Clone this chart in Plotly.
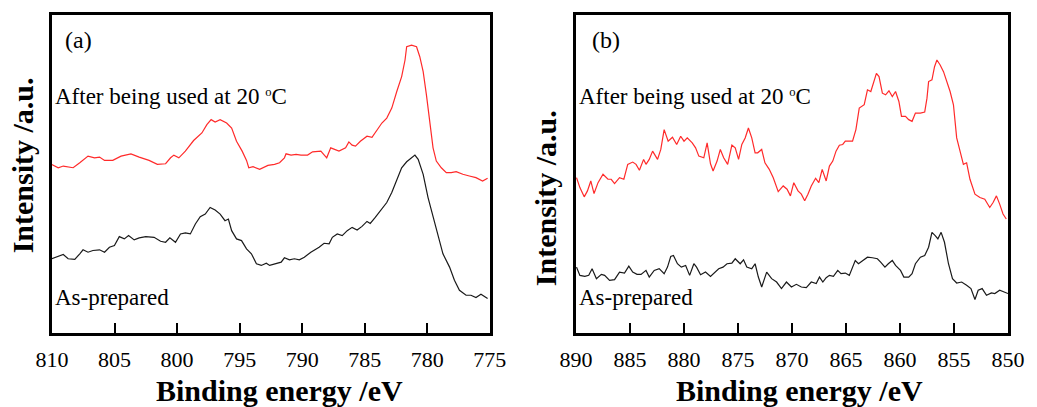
import plotly.graph_objects as go
from plotly.subplots import make_subplots

# Panel (a)
a_used_be = [810.03, 809.50, 809.10, 808.31, 807.78, 807.12, 806.60, 806.20, 805.80, 805.14, 804.48, 803.69, 803.03, 802.24, 801.58, 800.92, 800.52, 800.26, 799.86, 799.34, 798.68, 798.02, 797.62, 797.28, 796.96, 796.56, 796.04, 795.64, 795.25, 794.80, 794.45, 794.27, 793.93, 793.40, 792.74, 792.21, 791.81, 791.42, 791.29, 790.89, 790.49, 790.10, 789.57, 789.17, 788.51, 788.25, 788.04, 787.72, 787.40, 787.06, 786.53, 786.27, 786.01, 785.74, 785.35, 784.82, 784.42, 784.03, 783.63, 783.24, 782.84, 782.44, 782.05, 781.78, 781.65, 781.26, 780.86, 780.60, 780.33, 780.07, 779.80, 779.54, 779.28, 778.88, 778.48, 778.09, 777.69, 777.16, 776.64, 776.11, 775.58, 775.18]
a_used_int = [169.7, 166.3, 168.0, 166.3, 171.3, 178.0, 176.3, 177.0, 173.7, 173.7, 178.0, 180.3, 177.0, 173.7, 169.7, 170.3, 176.3, 179.0, 176.3, 183.0, 193.7, 201.3, 209.7, 214.7, 212.3, 214.7, 211.3, 206.3, 193.0, 183.0, 173.7, 166.3, 167.3, 164.7, 168.7, 169.7, 171.3, 176.3, 180.3, 179.0, 179.7, 179.0, 179.0, 182.3, 183.0, 179.0, 176.3, 186.3, 184.7, 183.0, 186.3, 192.3, 189.0, 188.0, 193.0, 198.0, 197.0, 204.7, 211.3, 216.3, 226.3, 243.0, 258.0, 274.7, 288.0, 289.7, 288.0, 278.0, 263.0, 239.7, 213.0, 186.3, 173.0, 166.3, 161.3, 161.3, 162.3, 159.7, 158.0, 156.3, 153.0, 155.7]

a_prep_be = [810.03, 809.63, 809.10, 808.71, 808.18, 807.78, 807.52, 807.12, 806.73, 806.20, 805.80, 805.41, 805.01, 804.62, 804.22, 803.88, 803.43, 803.03, 802.50, 801.84, 801.32, 800.92, 800.58, 800.13, 799.73, 799.34, 798.94, 798.54, 798.15, 797.75, 797.36, 796.96, 796.56, 796.17, 795.90, 795.64, 795.25, 794.85, 794.45, 794.06, 793.66, 793.27, 792.87, 792.60, 792.08, 791.68, 791.42, 791.02, 790.63, 790.23, 789.83, 789.31, 788.65, 788.25, 787.85, 787.59, 787.20, 786.80, 786.40, 786.01, 785.61, 785.22, 784.82, 784.56, 784.16, 783.63, 783.24, 782.84, 782.44, 782.05, 781.65, 781.26, 780.99, 780.73, 780.33, 779.94, 779.54, 779.14, 778.75, 778.22, 777.83, 777.43, 776.90, 776.51, 776.11, 775.71, 775.18]
a_prep_int = [74.7, 76.3, 79.0, 74.7, 74.0, 79.7, 83.7, 81.3, 83.0, 83.7, 81.3, 86.3, 88.0, 97.0, 94.7, 98.0, 93.7, 95.7, 97.0, 96.3, 92.3, 91.3, 95.7, 91.3, 99.7, 100.7, 99.7, 109.7, 117.0, 119.7, 126.3, 123.7, 119.7, 113.0, 114.7, 103.0, 94.7, 93.0, 84.7, 79.7, 69.7, 68.0, 70.3, 68.0, 69.7, 71.3, 75.7, 73.7, 74.7, 73.7, 76.3, 81.3, 86.3, 90.3, 89.7, 96.3, 99.7, 98.0, 103.0, 106.3, 103.7, 107.3, 112.3, 110.3, 116.3, 124.7, 131.3, 141.3, 153.0, 166.3, 172.3, 176.3, 179.0, 174.7, 159.7, 136.3, 116.3, 96.3, 79.7, 66.3, 53.0, 43.0, 38.0, 38.0, 35.7, 39.0, 34.7]

# Panel (b)
b_used_be = [889.94, 889.63, 889.23, 888.93, 888.62, 888.32, 887.95, 887.49, 887.03, 886.73, 886.42, 885.96, 885.56, 885.20, 884.74, 884.43, 884.12, 883.73, 883.51, 883.21, 882.90, 882.44, 882.14, 881.83, 881.46, 881.06, 880.67, 880.30, 879.99, 879.69, 879.23, 878.92, 878.62, 878.16, 877.85, 877.54, 877.30, 876.93, 876.63, 876.32, 875.95, 875.56, 875.25, 874.94, 874.64, 874.33, 874.03, 873.72, 873.41, 873.17, 872.80, 872.50, 872.10, 871.73, 871.27, 870.81, 870.45, 870.14, 869.83, 869.44, 869.13, 868.82, 868.52, 868.21, 867.81, 867.51, 867.20, 866.83, 866.53, 866.22, 865.92, 865.61, 865.30, 865.06, 864.69, 864.39, 864.08, 863.77, 863.31, 863.01, 862.70, 862.40, 862.18, 861.94, 861.63, 861.33, 861.02, 860.71, 860.41, 860.10, 859.86, 859.49, 859.19, 858.88, 858.57, 858.11, 857.71, 857.50, 857.35, 857.04, 856.80, 856.58, 856.28, 855.97, 855.66, 855.36, 855.05, 854.75, 854.44, 854.13, 853.83, 853.52, 853.06, 852.60, 852.15, 851.69, 851.38, 851.07, 850.77, 850.46, 850.16]
b_used_int = [156.3, 146.3, 137.0, 143.0, 153.0, 140.3, 151.3, 159.7, 154.7, 154.7, 150.3, 156.3, 154.7, 169.7, 172.0, 169.7, 163.7, 174.7, 169.7, 174.7, 183.0, 174.7, 184.7, 204.7, 193.0, 197.0, 189.7, 198.0, 193.0, 196.3, 191.3, 186.3, 178.0, 176.3, 191.3, 170.3, 163.0, 173.0, 184.7, 176.3, 169.7, 189.0, 186.3, 174.7, 189.7, 196.3, 206.3, 196.3, 181.3, 181.3, 184.7, 171.3, 164.7, 156.3, 142.3, 148.0, 144.7, 138.0, 151.3, 143.0, 139.7, 133.0, 139.7, 148.0, 155.7, 151.3, 164.7, 153.0, 168.0, 173.0, 183.0, 189.0, 189.7, 193.0, 193.0, 193.0, 204.7, 226.3, 229.7, 244.7, 243.0, 253.0, 261.3, 258.0, 241.3, 239.7, 243.7, 238.0, 243.0, 233.0, 218.0, 218.0, 214.7, 213.0, 221.3, 221.3, 222.3, 236.3, 253.0, 254.7, 268.0, 274.7, 269.7, 263.0, 253.0, 243.0, 229.7, 196.3, 183.0, 169.7, 171.3, 154.7, 139.7, 136.3, 134.7, 126.3, 131.3, 138.0, 129.7, 119.7, 114.7]

b_prep_be = [889.94, 889.63, 889.17, 888.81, 888.50, 888.10, 887.64, 887.34, 886.88, 886.42, 885.96, 885.50, 885.10, 884.74, 884.34, 883.97, 883.51, 883.21, 882.75, 882.29, 881.83, 881.52, 881.22, 880.97, 880.60, 880.24, 879.84, 879.47, 879.08, 878.83, 878.46, 878.00, 877.54, 877.24, 876.78, 876.38, 876.01, 875.56, 875.25, 874.79, 874.48, 874.18, 873.72, 873.41, 873.11, 872.80, 872.34, 871.88, 871.42, 870.97, 870.51, 870.05, 869.59, 869.13, 868.67, 868.21, 867.75, 867.45, 867.14, 866.83, 866.53, 866.16, 865.76, 865.46, 865.06, 864.69, 864.39, 864.14, 863.84, 863.47, 863.01, 862.55, 862.09, 861.79, 861.39, 861.08, 860.71, 860.41, 859.95, 859.64, 859.19, 858.88, 858.57, 858.11, 857.71, 857.35, 857.04, 856.74, 856.49, 856.19, 855.88, 855.51, 855.14, 854.75, 854.29, 853.83, 853.43, 853.06, 852.76, 852.39, 851.99, 851.53, 851.22, 850.77, 850.37, 850.00]
b_prep_int = [66.3, 58.0, 57.0, 58.0, 64.7, 54.7, 59.0, 58.0, 53.0, 53.7, 61.3, 60.3, 67.3, 61.3, 59.0, 59.0, 63.0, 56.3, 63.0, 64.7, 59.7, 66.3, 77.0, 78.0, 69.7, 66.3, 68.0, 58.0, 69.7, 66.3, 58.7, 61.3, 57.0, 59.7, 64.7, 66.3, 69.7, 70.3, 74.7, 69.7, 73.7, 66.3, 64.7, 69.7, 56.3, 46.3, 61.3, 54.7, 51.3, 44.7, 51.3, 46.3, 49.0, 46.3, 45.7, 51.3, 49.7, 56.3, 51.3, 55.7, 58.0, 57.0, 63.0, 59.7, 60.3, 58.0, 66.3, 73.0, 69.7, 73.0, 76.3, 75.7, 74.7, 71.3, 66.3, 69.7, 73.0, 68.0, 63.0, 56.3, 56.3, 59.7, 69.7, 76.3, 78.0, 86.3, 101.3, 98.0, 94.7, 101.3, 91.3, 69.7, 54.7, 50.3, 51.3, 48.0, 44.7, 33.7, 43.0, 44.7, 38.0, 40.3, 39.7, 43.0, 41.3, 39.7]

a_ticks = [810, 805, 800, 795, 790, 785, 780, 775]
b_ticks = [890, 885, 880, 875, 870, 865, 860, 855, 850]

label_used = "After being used at 20 <span style='font-size:18px'><sup>o</sup></span>C"
label_prep = "As-prepared"
x_title = "Binding energy /eV"
y_title = "Intensity /a.u."

FONT = "Liberation Serif"

fig = make_subplots(rows=1, cols=2, horizontal_spacing=0.09)
fig.update_layout(xaxis=dict(domain=[0.0, 0.458]), xaxis2=dict(domain=[0.548, 1.0]))

fig.add_trace(go.Scatter(x=a_used_be, y=a_used_int, mode="lines",
                         line=dict(color="#ff2a2a", width=1.2), showlegend=False), row=1, col=1)
fig.add_trace(go.Scatter(x=a_prep_be, y=a_prep_int, mode="lines",
                         line=dict(color="#1a1a1a", width=1.2), showlegend=False), row=1, col=1)
fig.add_trace(go.Scatter(x=b_used_be, y=b_used_int, mode="lines",
                         line=dict(color="#ff2a2a", width=1.2), showlegend=False), row=1, col=2)
fig.add_trace(go.Scatter(x=b_prep_be, y=b_prep_int, mode="lines",
                         line=dict(color="#1a1a1a", width=1.2), showlegend=False), row=1, col=2)

xcommon = dict(showline=True, linecolor="black", linewidth=2.5, mirror=True,
               ticks="inside", ticklen=10, tickwidth=1.5, tickcolor="black",
               showgrid=False, zeroline=False, ticklabelstandoff=5,
               tickfont=dict(family=FONT, size=22, color="black"))
fig.update_xaxes(range=[810, 775], tickvals=a_ticks, row=1, col=1, **xcommon)
fig.update_xaxes(range=[890, 850], tickvals=b_ticks, row=1, col=2, **xcommon)
fig.update_yaxes(range=[0, 320], showline=True, linecolor="black", linewidth=2.5, mirror=True,
                 ticks="", showticklabels=False, showgrid=False, zeroline=False)

ann = []
for xr, yr, tag in [("x domain", "y domain", "(a)"), ("x2 domain", "y2 domain", "(b)")]:
    ann.append(dict(xref=xr, yref=yr, x=0.025 if tag == "(a)" else 0.032, y=0.92, text=tag,
                    showarrow=False, xanchor="left", yanchor="middle",
                    font=dict(family=FONT, size=24, color="black")))
    ann.append(dict(xref=xr, yref=yr, x=0.002, y=0.744, text=label_used,
                    showarrow=False, xanchor="left", yanchor="middle",
                    font=dict(family=FONT, size=23, color="black")))
    ann.append(dict(xref=xr, yref=yr, x=0.002, y=0.1125, text=label_prep,
                    showarrow=False, xanchor="left", yanchor="middle",
                    font=dict(family=FONT, size=23, color="black")))

for x, y in [(-0.0311, 0.528), (0.5171, 0.425)]:
    ann.append(dict(xref="paper", yref="paper", x=x, y=y, text="<b>" + y_title + "</b>",
                    textangle=-90, showarrow=False, xanchor="center", yanchor="middle",
                    font=dict(family=FONT, size=30, color="black")))
for x in [0.2383, 0.7824]:
    ann.append(dict(xref="paper", yref="paper", x=x, y=-0.181, text="<b>" + x_title + "</b>",
                    showarrow=False, xanchor="center", yanchor="middle",
                    font=dict(family=FONT, size=30, color="black")))

fig.update_layout(annotations=ann, width=1037, height=407,
                  margin=dict(l=52, r=20, t=13, b=74),
                  font=dict(family=FONT, color="black"),
                  plot_bgcolor="white", paper_bgcolor="white")

fig.write_html("out.html")
